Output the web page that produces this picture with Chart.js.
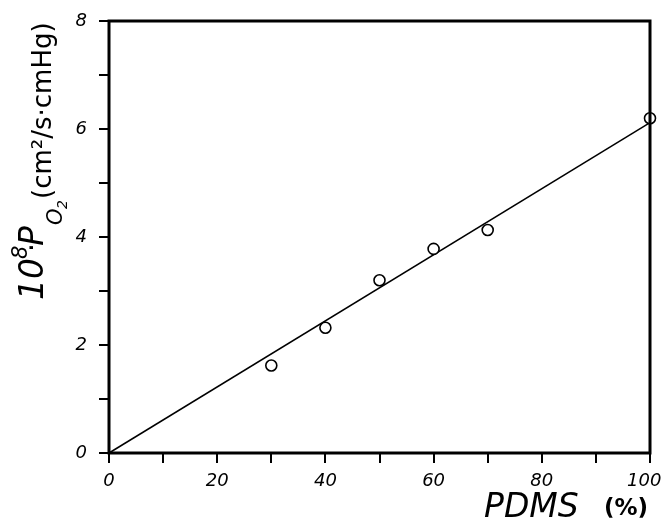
<!DOCTYPE html>
<html>
<head>
<meta charset="utf-8">
<script src="https://cdn.jsdelivr.net/npm/chart.js@4.4.0/dist/chart.umd.min.js"></script>
<style>
html,body{margin:0;padding:0;background:#fff;}
#wrap{width:661px;height:530px;position:relative;}
</style>
</head>
<body>
<div id="wrap"><canvas id="c" width="661" height="530"></canvas></div>
<script>
// Data
const pdmsPercent = [30, 40, 50, 60, 70, 100];
const permeabilityO2 = [1.62, 2.32, 3.20, 3.78, 4.13, 6.20];
const fitX = [0, 100];
const fitY = [0, 6.12];
const xTickLabels = [0, 20, 40, 60, 80, 100];
const yTickLabels = [0, 2, 4, 6, 8];

const pointData = pdmsPercent.map((x, i) => ({x: x, y: permeabilityO2[i]}));
const lineData = fitX.map((x, i) => ({x: x, y: fitY[i]}));

const FONT = '"DejaVu Sans", "Liberation Sans", sans-serif';

const framePlugin = {
  id: 'frame',
  afterDatasetsDraw(chart) {
    const {ctx, chartArea: a} = chart;
    ctx.save();
    ctx.strokeStyle = '#000';
    ctx.lineWidth = 3;
    ctx.strokeRect(a.left, a.top, a.right - a.left, a.bottom - a.top);
    ctx.restore();
  }
};

const titlePlugin = {
  id: 'titles',
  afterDraw(chart) {
    const ctx = chart.ctx;
    ctx.save();
    ctx.fillStyle = '#000';
    ctx.textBaseline = 'alphabetic';
    ctx.textAlign = 'left';
    // Y axis title (rotated)
    ctx.save();
    ctx.translate(43, 300);
    ctx.rotate(-Math.PI / 2);
    ctx.font = 'italic 33px ' + FONT;
    ctx.fillText('10', 0, 0);
    ctx.font = 'italic 21px ' + FONT;
    ctx.fillText('8', 41, -16);
    ctx.font = '28px ' + FONT;
    ctx.fillText('·', 48, -2);
    ctx.font = 'italic 33px ' + FONT;
    ctx.fillText('P', 54, 0);
    ctx.font = 'italic 21px ' + FONT;
    ctx.fillText('O', 75, 19);
    ctx.font = 'italic 14px ' + FONT;
    ctx.fillText('2', 91, 24);
    ctx.font = '26px ' + FONT;
    ctx.fillText('(cm²/s·cmHg)', 101, 8);
    ctx.restore();
    // X axis title
    ctx.font = 'italic 33px ' + FONT;
    ctx.fillText('PDMS', 484, 517);
    ctx.font = 'bold 23px ' + FONT;
    ctx.fillText('(%)', 604, 515);
    ctx.restore();
  }
};

new Chart(document.getElementById('c'), {
  type: 'scatter',
  data: {
    datasets: [
      {
        label: 'fit',
        data: lineData,
        showLine: true,
        borderColor: '#000',
        borderWidth: 1.5,
        pointRadius: 0,
        fill: false,
        order: 2
      },
      {
        label: 'measured',
        data: pointData,
        pointRadius: 5.5,
        pointBackgroundColor: '#fff',
        pointBorderColor: '#000',
        pointBorderWidth: 1.6,
        showLine: false,
        order: 1
      }
    ]
  },
  options: {
    responsive: false,
    animation: false,
    devicePixelRatio: 1,
    clip: false,
    layout: {padding: {top: 21, right: 11, bottom: 0, left: 0}},
    plugins: {legend: {display: false}, tooltip: {enabled: false}},
    scales: {
      x: {
        type: 'linear',
        min: 0, max: 100,
        border: {display: false},
        grid: {drawOnChartArea: false, drawTicks: true, tickLength: 10, lineWidth: 2, color: '#000'},
        ticks: {
          stepSize: 10,
          autoSkip: false,
          maxRotation: 0,
          padding: 8,
          color: '#000',
          font: {family: FONT, size: 18, style: 'italic'},
          callback: v => xTickLabels.includes(v) ? (v === 100 ? '100  ' : String(v)) : ''
        },
        afterFit(s) { s.height = 77; s.paddingLeft = 0; s.paddingRight = 0; }
      },
      y: {
        type: 'linear',
        min: 0, max: 8,
        border: {display: false},
        grid: {drawOnChartArea: false, drawTicks: true, tickLength: 10, lineWidth: 2, color: '#000'},
        ticks: {
          stepSize: 1,
          autoSkip: false,
          padding: 12,
          color: '#000',
          font: {family: FONT, size: 18, style: 'italic'},
          callback: v => yTickLabels.includes(v) ? String(v) : ''
        },
        afterFit(s) { s.width = 109; s.paddingTop = 0; s.paddingBottom = 0; }
      }
    }
  },
  plugins: [framePlugin, titlePlugin]
});
</script>
</body>
</html>
